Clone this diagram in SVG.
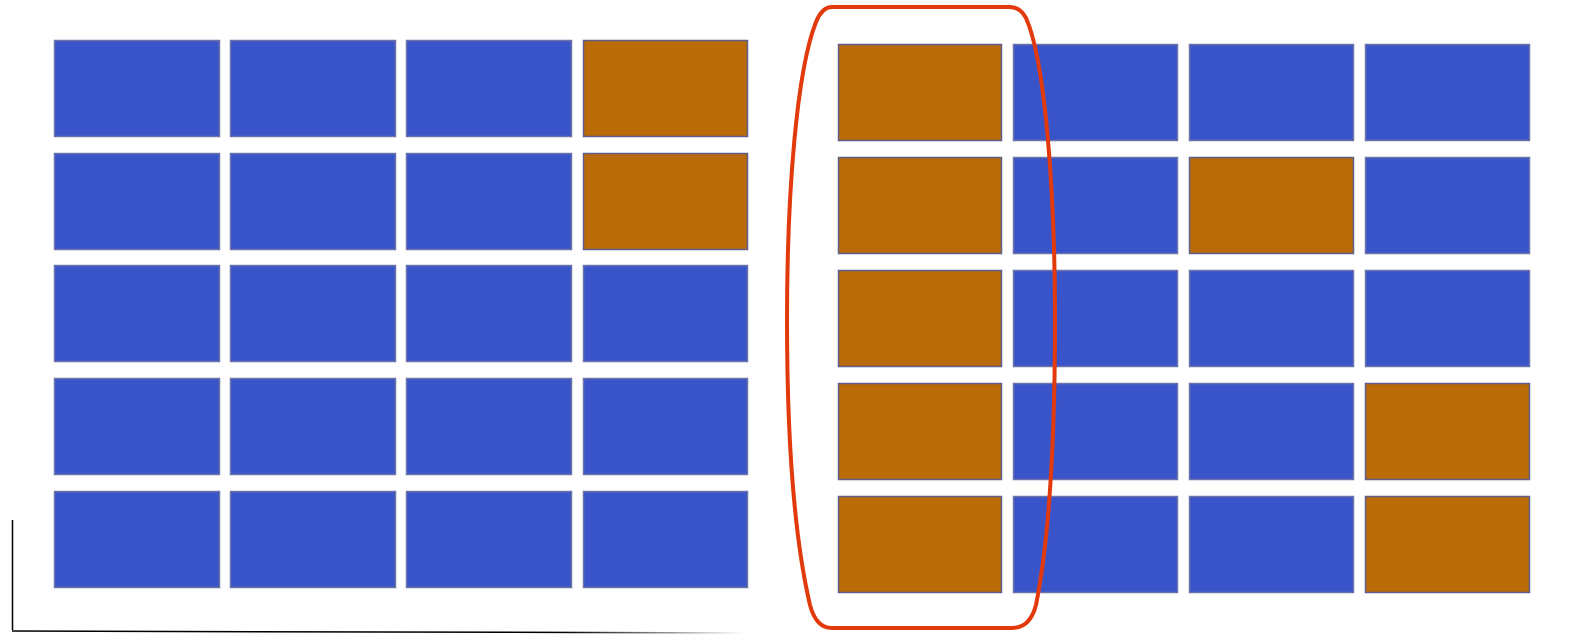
<svg xmlns="http://www.w3.org/2000/svg" width="1570" height="634" viewBox="0 0 1570 634">
<defs>
<style>
.b{fill:#3953c9;stroke:#6c74a8;stroke-width:1.5}
.o{fill:#b86b07;stroke:#5f5f8f;stroke-width:1.5}
</style>
<linearGradient id="fade" x1="0" y1="0" x2="1" y2="0">
<stop offset="0" stop-color="#000"/>
<stop offset="0.75" stop-color="#000"/>
<stop offset="1" stop-color="#000" stop-opacity="0"/>
</linearGradient>
</defs>
<rect width="1570" height="634" fill="#fff"/>
<g id="left-grid">
<rect id="L11" class="b" x="54.5" y="40.5" width="165" height="96"/>
<rect id="L12" class="b" x="230.5" y="40.5" width="165" height="96"/>
<rect id="L13" class="b" x="406.5" y="40.5" width="165" height="96"/>
<rect id="L14" class="o" x="583.5" y="40.5" width="164" height="96"/>
<rect id="L21" class="b" x="54.5" y="153.5" width="165" height="96"/>
<rect id="L22" class="b" x="230.5" y="153.5" width="165" height="96"/>
<rect id="L23" class="b" x="406.5" y="153.5" width="165" height="96"/>
<rect id="L24" class="o" x="583.5" y="153.5" width="164" height="96"/>
<rect id="L31" class="b" x="54.5" y="265.5" width="165" height="96"/>
<rect id="L32" class="b" x="230.5" y="265.5" width="165" height="96"/>
<rect id="L33" class="b" x="406.5" y="265.5" width="165" height="96"/>
<rect id="L34" class="b" x="583.5" y="265.5" width="164" height="96"/>
<rect id="L41" class="b" x="54.5" y="378.5" width="165" height="96"/>
<rect id="L42" class="b" x="230.5" y="378.5" width="165" height="96"/>
<rect id="L43" class="b" x="406.5" y="378.5" width="165" height="96"/>
<rect id="L44" class="b" x="583.5" y="378.5" width="164" height="96"/>
<rect id="L51" class="b" x="54.5" y="491.5" width="165" height="96"/>
<rect id="L52" class="b" x="230.5" y="491.5" width="165" height="96"/>
<rect id="L53" class="b" x="406.5" y="491.5" width="165" height="96"/>
<rect id="L54" class="b" x="583.5" y="491.5" width="164" height="96"/>
</g>
<g id="right-grid">
<rect id="R11" class="o" x="838.5" y="44.5" width="163" height="96"/>
<rect id="R12" class="b" x="1013.5" y="44.5" width="164" height="96"/>
<rect id="R13" class="b" x="1189.5" y="44.5" width="164" height="96"/>
<rect id="R14" class="b" x="1365.5" y="44.5" width="164" height="96"/>
<rect id="R21" class="o" x="838.5" y="157.5" width="163" height="96"/>
<rect id="R22" class="b" x="1013.5" y="157.5" width="164" height="96"/>
<rect id="R23" class="o" x="1189.5" y="157.5" width="164" height="96"/>
<rect id="R24" class="b" x="1365.5" y="157.5" width="164" height="96"/>
<rect id="R31" class="o" x="838.5" y="270.5" width="163" height="96"/>
<rect id="R32" class="b" x="1013.5" y="270.5" width="164" height="96"/>
<rect id="R33" class="b" x="1189.5" y="270.5" width="164" height="96"/>
<rect id="R34" class="b" x="1365.5" y="270.5" width="164" height="96"/>
<rect id="R41" class="o" x="838.5" y="383.5" width="163" height="96"/>
<rect id="R42" class="b" x="1013.5" y="383.5" width="164" height="96"/>
<rect id="R43" class="b" x="1189.5" y="383.5" width="164" height="96"/>
<rect id="R44" class="o" x="1365.5" y="383.5" width="164" height="96"/>
<rect id="R51" class="o" x="838.5" y="496.5" width="163" height="96"/>
<rect id="R52" class="b" x="1013.5" y="496.5" width="164" height="96"/>
<rect id="R53" class="b" x="1189.5" y="496.5" width="164" height="96"/>
<rect id="R54" class="o" x="1365.5" y="496.5" width="164" height="96"/>
</g>
<g id="highlight">
<path d="M 832,7 L 1010,7 Q 1020,7 1026,18 C 1045,60 1055,190 1055,320 C 1055,450 1048,545 1036,605 Q 1030,628 1012,628 L 832,628 Q 816,628 810,605 C 796,545 787,450 787,320 C 787,190 797,70 816,22 Q 822,7 832,7 Z" fill="none" stroke="#e23a0c" stroke-width="4"/>
</g>
<g id="axes">
<line x1="12.5" y1="520" x2="12.5" y2="630" stroke="#000" stroke-width="1.5"/>
<line x1="12" y1="631" x2="745" y2="633" stroke="url(#fade)" stroke-width="1.5"/>
</g>
</svg>
